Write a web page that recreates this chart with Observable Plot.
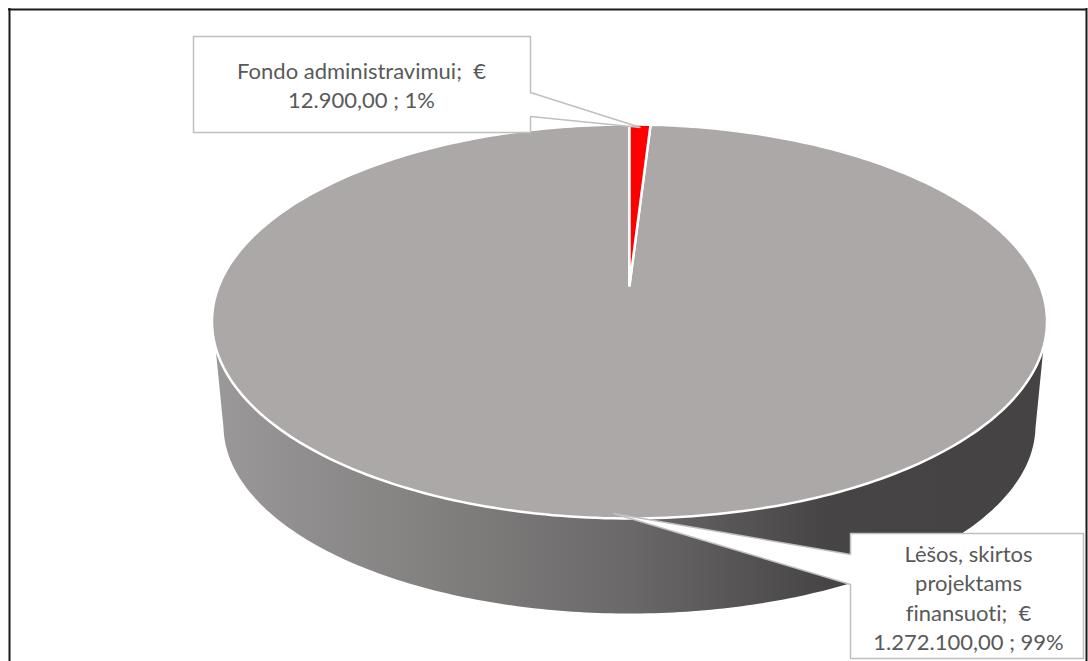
<!DOCTYPE html>
<html>
<head>
<meta charset="utf-8">
<script src="https://cdn.jsdelivr.net/npm/d3@7"></script>
<script src="https://cdn.jsdelivr.net/npm/@observablehq/plot@0.6"></script>
<style>html,body{margin:0;padding:0;background:#fff}svg{display:block}text{font-variant-ligatures:none}</style>
</head>
<body>
<div id="chart"></div>
<script>
// Data
const categories = ["Fondo administravimui", "Lėšos, skirtos projektams finansuoti"];
const amounts = [12900, 1272100];
const colors = ["#ff0000", "#aba8a7"];
const topLabelLines = ["Fondo administravimui;\u00A0\u00A0€", "12.900,00 ; 1%"];
const bottomLabelLines = ["Lėšos, skirtos", "projektams", "finansuoti;\u00A0\u00A0€", "1.272.100,00 ; 99%"];

// Layout of the tilted disc
const W = 1088, H = 661;
const disc = {cx: 629, cy: 321, rx: 417.5, ry: 197, apexY: 285};
const base = {cx: 629, cy: 425, rx: 406, ry: 188};
const N = 360;
const warp = th => th - 0.2 * Math.sin(th);      // perspective foreshortening
const onDisc = t => ({x: disc.cx + disc.rx * Math.sin(t), y: disc.cy - disc.ry * Math.cos(t)});
const onBase = t => ({x: base.cx + base.rx * Math.sin(t), y: base.cy - base.ry * Math.cos(t)});

const total = d3.sum(amounts);
let acc = 0;
const slices = amounts.map((v, i) => {
  const a0 = acc / total * 2 * Math.PI; acc += v;
  const a1 = acc / total * 2 * Math.PI;
  const pts = [{x: disc.cx, y: disc.apexY}];
  const n = Math.max(2, Math.round((a1 - a0) / (2 * Math.PI) * N));
  for (let k = 0; k <= n; k++) pts.push(onDisc(warp(a0 + (a1 - a0) * k / n)));
  pts.push({x: disc.cx, y: disc.apexY});
  return {category: categories[i], fill: colors[i], pts};
});

// Visible wall: front of the disc rim, then the base edge back
const rimStart = 1.70, rimEnd = 2 * Math.PI - 1.70;
const baseStart = 1.585, baseEnd = 2 * Math.PI - 1.585;
const wall = [];
for (let k = 0; k <= 200; k++) wall.push(onDisc(rimStart + (rimEnd - rimStart) * k / 200));
for (let k = 200; k >= 0; k--) wall.push(onBase(baseStart + (baseEnd - baseStart) * k / 200));

// Callouts
const topCallout = [[193,36],[530,36],[530,92],[640,127],[530,116],[530,132],[193,132],[193,36]].map(([x,y])=>({x,y}));
const bottomCallout = [[850,533],[1083,533],[1083,658],[850,658],[850,584],[613,513],[850,554],[850,533]].map(([x,y])=>({x,y}));
const topText = topLabelLines.map((t,i)=>({t, x:361, y:71+i*29}));
const bottomText = bottomLabelLines.map((t,i)=>({t, x:968, y:554+i*29.5}));

const defs = () => {
  const g = d3.create("svg:g");
  const lg = g.append("defs").append("linearGradient").attr("id","wallGrad");
  [[0,"#9a9898"],[0.3,"#7f7d7c"],[0.5,"#6a6868"],[0.74,"#474445"],[1,"#464344"]]
    .forEach(([o,c]) => lg.append("stop").attr("offset",o).attr("stop-color",c));
  return g.node();
};
const label = "#595959", edge = "#bfbfbf";

const plot = Plot.plot({
  width: W, height: H, margin: 0,
  x: {domain: [0, W], range: [0, W], axis: null},
  y: {domain: [0, H], range: [0, H], axis: null},
  marks: [
    defs,
    Plot.line(wall, {x:"x", y:"y", fill:"url(#wallGrad)", stroke:"none"}),
    ...slices.slice().reverse().map(s =>
      Plot.line(s.pts, {x:"x", y:"y", fill:s.fill, stroke:"#fff", strokeWidth:2.5,
        strokeLinejoin:"miter", strokeMiterlimit:30, title:()=>s.category})),
    Plot.line(topCallout, {x:"x", y:"y", fill:"#fff", stroke:edge, strokeWidth:1.5, strokeLinejoin:"miter"}),
    Plot.line(bottomCallout, {x:"x", y:"y", fill:"#fff", stroke:edge, strokeWidth:1.5, strokeLinejoin:"miter"}),
    Plot.text(topText, {x:"x", y:"y", text:"t", fill:label, fontFamily:"Lato", fontSize:22}),
    Plot.text(bottomText, {x:"x", y:"y", text:"t", fill:label, fontFamily:"Lato", fontSize:22}),
    Plot.ruleY([9], {x1:8, x2:1087, stroke:"#1a1a1a", strokeWidth:2}),
    Plot.ruleX([9], {y1:8, y2:H, stroke:"#1a1a1a", strokeWidth:2}),
    Plot.ruleX([1086], {y1:8, y2:H, stroke:"#1a1a1a", strokeWidth:2})
  ]
});
document.getElementById("chart").append(plot);
</script>
</body>
</html>
